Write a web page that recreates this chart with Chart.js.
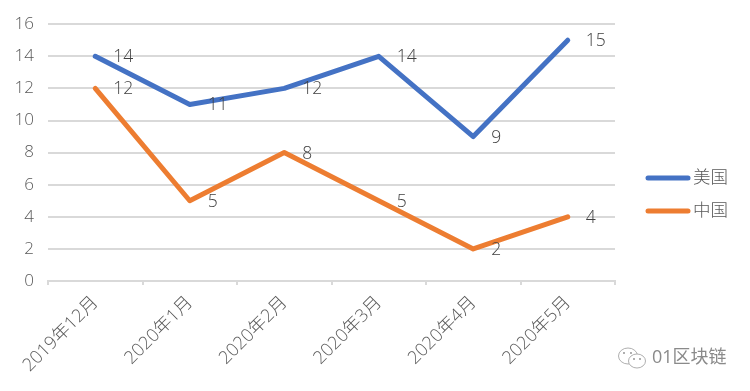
<!DOCTYPE html>
<html><head><meta charset="utf-8">
<style>html,body{margin:0;padding:0;background:#fff}#w{position:relative;width:750px;height:391px}</style>
<script src="https://cdn.jsdelivr.net/npm/chart.js@4/dist/chart.umd.min.js"></script>
</head><body><div id="w"><canvas id="c" width="750" height="391"></canvas></div>
<script>
const categories = ["2019年12月","2020年1月","2020年2月","2020年3月","2020年4月","2020年5月"];
const usValues = [14,11,12,14,9,15];
const cnValues = [12,5,8,5,2,4];
const seriesNames = ["美国","中国"];
const watermark = "01区块链";
const FONT = '"Open Sans","Noto Sans CJK SC",sans-serif';
const labelsPlugin = {
  id:'valueLabels',
  afterDatasetsDraw(chart){
    const ctx=chart.ctx; ctx.save();
    ctx.font='300 17.5px '+FONT; ctx.fillStyle='#404040'; ctx.textAlign='left'; ctx.textBaseline='middle';
    chart.data.datasets.forEach((ds,i)=>{
      chart.getDatasetMeta(i).data.forEach((p,j)=>ctx.fillText(String(ds.data[j]),p.x+18,p.y+1));
    });
    ctx.restore();
  }
};
const legendPlugin = {
  id:'sideLegend',
  afterDraw(chart){
    const ctx=chart.ctx; ctx.save();
    ctx.font='300 17.5px '+FONT; ctx.textAlign='left'; ctx.textBaseline='middle';
    chart.data.datasets.forEach((ds,i)=>{
      const y=178+i*33;
      ctx.strokeStyle=ds.borderColor; ctx.lineWidth=5; ctx.lineCap='round';
      ctx.beginPath(); ctx.moveTo(648,y); ctx.lineTo(688,y); ctx.stroke();
      ctx.fillStyle='#595959'; ctx.fillText(ds.label,693,y);
    });
    ctx.restore();
  }
};
const watermarkPlugin = {
  id:'watermark',
  afterDraw(chart){
    const ctx=chart.ctx; ctx.save();
    ctx.strokeStyle='#9a9a9a'; ctx.lineWidth=0.8; ctx.fillStyle='#fff';
    ctx.beginPath(); ctx.ellipse(628,356,9.5,8,0,0,Math.PI*2); ctx.stroke();
    ctx.beginPath(); ctx.ellipse(637,361,8.5,7,0,0,Math.PI*2); ctx.fill(); ctx.stroke();
    ctx.fillStyle='#8a8a8a';
    [[624,353],[631,353],[634,359],[640,359]].forEach(d=>{ctx.beginPath();ctx.arc(d[0],d[1],0.9,0,Math.PI*2);ctx.fill();});
    ctx.font='18px '+FONT; ctx.fillStyle='#8a8a8a'; ctx.textAlign='left'; ctx.textBaseline='middle';
    ctx.fillText(watermark,652,358);
    ctx.restore();
  }
};
new Chart(document.getElementById('c'),{
  type:'line',
  data:{labels:categories,datasets:[
    {label:seriesNames[0],data:usValues,borderColor:'#4472c4',backgroundColor:'#4472c4'},
    {label:seriesNames[1],data:cnValues,borderColor:'#ed7d31',backgroundColor:'#ed7d31'}
  ]},
  options:{
    responsive:false,animation:false,
    layout:{padding:{top:14,left:0,right:135,bottom:0}},
    elements:{
      line:{borderWidth:5,tension:0,borderCapStyle:'round',borderJoinStyle:'round'},
      point:{radius:0,hoverRadius:0}
    },
    plugins:{tooltip:{enabled:false},legend:{display:false}},
    scales:{
      x:{
        type:'category',offset:true,
        grid:{drawOnChartArea:false,color:'#d9d9d9',lineWidth:2,tickLength:4,offset:true},
        border:{color:'#d9d9d9',width:2},
        ticks:{color:'#595959',font:{family:FONT,size:18,weight:'300'},minRotation:45,maxRotation:45,padding:7,autoSkip:false},
        afterFit(s){s.height=110;}
      },
      y:{
        min:0,max:16,
        grid:{color:'#d9d9d9',lineWidth:2,drawTicks:false},
        border:{display:false},
        ticks:{stepSize:2,color:'#595959',font:{family:FONT,size:17,weight:'300'},padding:14},
        afterFit(s){s.width=48;}
      }
    }
  },
  plugins:[labelsPlugin,legendPlugin,watermarkPlugin]
});
</script></body></html>
